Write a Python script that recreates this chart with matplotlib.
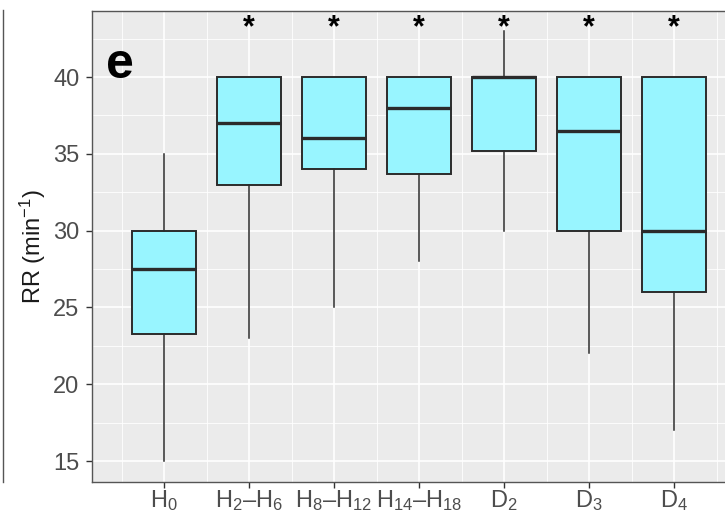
import numpy as np
import matplotlib
matplotlib.use('Agg')
import matplotlib.pyplot as plt
from matplotlib.lines import Line2D

plt.rcParams['font.family'] = ['Liberation Sans', 'DejaVu Sans']
plt.rcParams['mathtext.fontset'] = 'custom'
plt.rcParams['mathtext.rm'] = 'Liberation Sans'
plt.rcParams['mathtext.it'] = 'Liberation Sans'

# groups and box statistics (RR, breaths per minute)
labels = [r'H$_0$', r'H$_2$–H$_6$', r'H$_8$–H$_{12}$', r'H$_{14}$–H$_{18}$',
          r'D$_2$', r'D$_3$', r'D$_4$']
whislo = [15, 23, 25, 28, 30, 22, 17]
q1 = [23.3, 33, 34, 33.7, 35.2, 30, 26]
med = [27.5, 37, 36, 38, 40, 36.5, 30]
q3 = [30, 40, 40, 40, 40, 40, 40]
whishi = [35, 40, 40, 40, 43, 40, 40]
signif = ['', '*', '*', '*', '*', '*', '*']

stats = []
for i in range(len(labels)):
    stats.append({'whislo': whislo[i], 'q1': q1[i], 'med': med[i],
                  'q3': q3[i], 'whishi': whishi[i], 'fliers': []})

fig = plt.figure(figsize=(7.25, 5.14), dpi=100)
ax = fig.add_axes([92/725, 1 - 482/514, 1 - 92/725, (482 - 11)/514])
ax.set_facecolor('#EBEBEB')

pos = np.arange(1, len(labels) + 1)
edge = '#2b2b2b'
ax.bxp(stats, positions=pos, widths=0.75, patch_artist=True, showcaps=False,
       boxprops=dict(facecolor='#98F5FF', edgecolor=edge, linewidth=1.4),
       medianprops=dict(color=edge, linewidth=2.4),
       whiskerprops=dict(color=edge, linewidth=1.1), zorder=3)

for p, s in zip(pos, signif):
    if s:
        ax.text(p, 43.2, s, ha='center', va='center', fontsize=22,
                fontweight='bold', color='black', zorder=4)

ax.text(0.48, 40.75, 'e', ha='center', va='center', fontsize=36,
        fontweight='bold', color='black', zorder=4)

ax.set_xlim(1 - 72/85, 7 + 51/85)
ax.set_ylim(40 - 405/15.36, 40 + 66/15.36)
ax.set_yticks([15, 20, 25, 30, 35, 40])
ax.set_yticks(np.arange(17.5, 44, 5), minor=True)
ax.set_xticks(pos)
ax.set_xticklabels(labels)
ax.set_xticks(np.arange(0.5, 8, 1), minor=True)

ax.grid(True, which='major', color='white', linewidth=1.2, zorder=0)
ax.grid(True, which='minor', color='white', linewidth=0.6, zorder=0)
ax.set_axisbelow(True)

ax.tick_params(axis='both', which='major', length=4, width=1.0,
               color='#333333', labelcolor='#4D4D4D', labelsize=17)
ax.tick_params(axis='y', which='major', pad=5)
ax.tick_params(axis='x', which='major', pad=0.5)
ax.tick_params(axis='both', which='minor', length=0)

for side in ['left', 'top', 'bottom']:
    ax.spines[side].set_color('#555555')
    ax.spines[side].set_linewidth(1.0)
ax.spines['right'].set_visible(False)

ax.set_ylabel(r'RR (min$^{-1}$)', fontsize=17, color='#1a1a1a', labelpad=4)

# border of the neighbouring panel at the left edge
fig.add_artist(Line2D([3/725, 3/725], [1 - 482/514, 1 - 10/514],
                      color='#555555', linewidth=1.0))

fig.savefig('out.png', dpi=100)
